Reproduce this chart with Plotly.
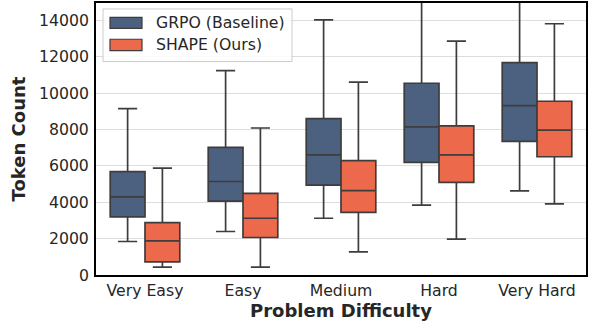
import plotly.graph_objects as go

categories = ["Very Easy", "Easy", "Medium", "Hard", "Very Hard"]

grpo_lower = [1840, 2390, 3120, 3840, 4620]
grpo_q1 = [3200, 4060, 4940, 6190, 7340]
grpo_median = [4290, 5140, 6600, 8140, 9310]
grpo_q3 = [5680, 7010, 8590, 10540, 11670]
grpo_upper = [9150, 11230, 14020, 16800, 17500]

shape_lower = [430, 430, 1270, 1970, 3910]
shape_q1 = [720, 2060, 3440, 5090, 6500]
shape_median = [1880, 3120, 4640, 6600, 7960]
shape_q3 = [2880, 4490, 6290, 8200, 9550]
shape_upper = [5870, 8080, 10600, 12850, 13810]

y_ticks = [0, 2000, 4000, 6000, 8000, 10000, 12000, 14000]

GRPO_COLOR = "#4c6180"
SHAPE_COLOR = "#ec694c"
EDGE = "#3d3d3d"
TEXT = "#262626"
FONT = "DejaVu Sans"

W, H = 591, 329
ML, MR, MT, MB = 96, 5, 1, 54

fig = go.Figure()
for name, col, lo, q1, med, q3, up in [
    ("GRPO (Baseline)", GRPO_COLOR, grpo_lower, grpo_q1, grpo_median, grpo_q3, grpo_upper),
    ("SHAPE (Ours)", SHAPE_COLOR, shape_lower, shape_q1, shape_median, shape_q3, shape_upper),
]:
    fig.add_trace(go.Box(
        name=name, x=categories, q1=q1, median=med, q3=q3,
        lowerfence=lo, upperfence=up,
        fillcolor=col, line=dict(color=EDGE, width=1.7),
        whiskerwidth=0.55, boxpoints=False, showlegend=False,
        hoverinfo="skip",
    ))

# manual legend (pixel -> paper helpers)
pw = W - ML - MR
ph = H - MT - MB
def px(x):
    return (x - ML) / pw
def py(y):
    return (H - MB - y) / ph

shapes = [dict(type="rect", xref="paper", yref="paper",
               x0=px(103), x1=px(292), y0=py(60), y1=py(7),
               line=dict(color="#cccccc", width=1), fillcolor="rgba(255,255,255,0.85)",
               layer="above")]
legend_items = [("GRPO (Baseline)", GRPO_COLOR, 15.5, 26.5, 21), ("SHAPE (Ours)", SHAPE_COLOR, 37.5, 49, 43)]
annotations = []
for label, col, ya, yb, yc in legend_items:
    shapes.append(dict(type="rect", xref="paper", yref="paper",
                       x0=px(110), x1=px(142), y0=py(yb), y1=py(ya),
                       line=dict(color=EDGE, width=1.2), fillcolor=col, layer="above"))
    annotations.append(dict(xref="paper", yref="paper", x=px(154), y=py(yc),
                            text=label, showarrow=False, xanchor="left", yanchor="middle",
                            font=dict(family=FONT, size=15.7, color=TEXT)))

fig.update_layout(
    width=W, height=H,
    margin=dict(l=ML, r=MR, t=MT, b=MB),
    paper_bgcolor="white", plot_bgcolor="white",
    boxmode="group", boxgap=0.29, boxgroupgap=0,
    font=dict(family=FONT, size=15.7, color=TEXT),
    shapes=shapes, annotations=annotations,
    xaxis=dict(
        title=dict(text="<b>Problem Difficulty</b>", font=dict(family=FONT, size=18, color=TEXT), standoff=3),
        showline=True, linecolor="black", linewidth=2, mirror=True,
        showgrid=False, ticks="", tickfont=dict(size=15.7, color=TEXT),
    ),
    yaxis=dict(
        title=dict(text="<b>Token Count</b>", font=dict(family=FONT, size=18, color=TEXT), standoff=9),
        range=[0, 14950], tickvals=y_ticks, ticktext=[str(v) for v in y_ticks],
        showline=True, linecolor="black", linewidth=2, mirror=True,
        showgrid=True, gridcolor="#dddddd", gridwidth=1,
        ticks="outside", ticklen=2, tickcolor="rgba(0,0,0,0)",
        tickfont=dict(size=15.7, color=TEXT), zeroline=False,
    ),
)

fig.write_html("out.html")
